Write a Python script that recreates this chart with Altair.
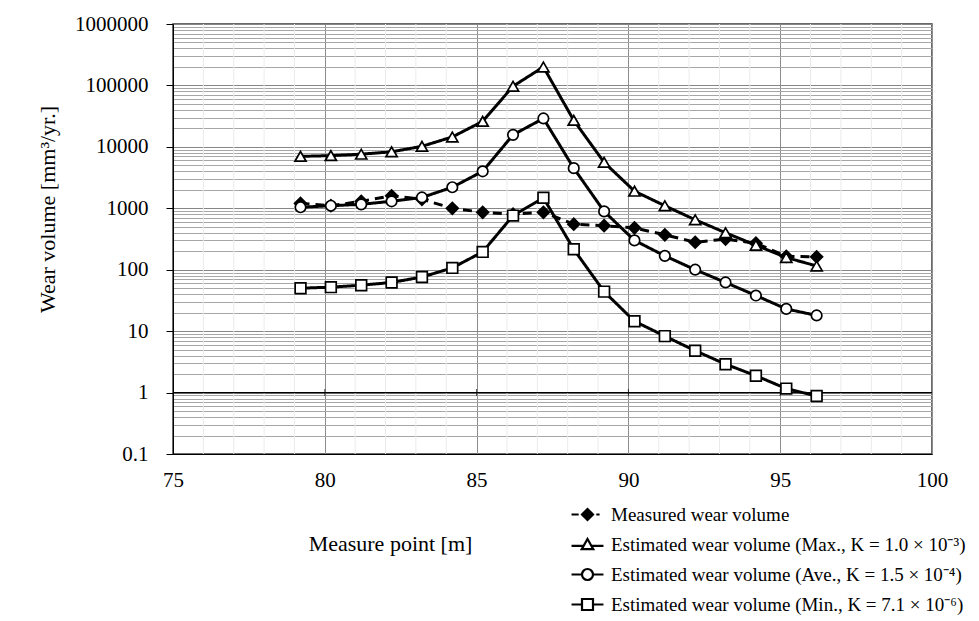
import altair as alt
import pandas as pd

# ---------------- data ----------------
positions = [79.2, 80.2, 81.2, 82.2, 83.2, 84.2, 85.2, 86.2, 87.2,
             88.2, 89.2, 90.2, 91.2, 92.2, 93.2, 94.2, 95.2, 96.2]
measured = [1200, 1100, 1300, 1600, 1400, 1000, 860, 800, 860,
            550, 520, 480, 370, 280, 315, 270, 165, 162]
est_max = [7000, 7200, 7600, 8300, 10200, 14500, 26000, 97000, 200000,
           27000, 5600, 1900, 1100, 650, 400, 250, 158, 115]
est_ave = [1040, 1100, 1160, 1300, 1500, 2200, 4000, 15700, 29000,
           4500, 890, 300, 168, 100, 62, 38, 23, 18]
est_min = [50, 52, 56, 62, 76, 107, 195, 760, 1480,
           215, 44, 14.5, 8.3, 4.8, 2.9, 1.88, 1.16, 0.88]

series_names = [
    "Measured wear volume",
    "Estimated wear volume (Max., K = 1.0 × 10⁻³)",
    "Estimated wear volume (Ave., K = 1.5 × 10⁻⁴)",
    "Estimated wear volume (Min., K = 7.1 × 10⁻⁶)",
]
series_values = [measured, est_max, est_ave, est_min]

x_major = [75, 80, 85, 90, 95, 100]
x_minor = [v for v in range(76, 100) if v % 5 != 0]
y_decades = [0.1, 1, 10, 100, 1000, 10000, 100000, 1000000]
y_minor = [m * d for d in y_decades[:-1] for m in range(2, 10)]
x_axis_crossing = [1]
x_axis_marks = [80, 85, 90, 95]

rows = []
for name, vals in zip(series_names, series_values):
    for p, v in zip(positions, vals):
        rows.append({"series": name, "pos": p, "wear": v})
df = pd.DataFrame(rows)

FONT = "Liberation Serif"
decade_test = "abs(log(datum.value)/LN10 - round(log(datum.value)/LN10)) < 1e-6"

x_scale = alt.Scale(domain=[75, 100], nice=False, zero=False)
y_scale = alt.Scale(type="log", domain=[0.1, 1000000], nice=False)

x_enc = alt.X(
    "pos:Q", scale=x_scale,
    axis=alt.Axis(
        values=x_major, title="Measure point [m]",
        labelOverlap=False, labelFlush=False,
        ticks=False, labelPadding=15, labelFontSize=21, labelFont=FONT,
        labelColor="black", domainColor="black", domainWidth=1,
        gridColor="#8c8c8c", gridWidth=1,
        titleFont=FONT, titleFontSize=22, titleFontWeight="normal", titleColor="black",
        titleX=217, titleY=89, titleBaseline="middle", titleAlign="center",
    ),
)
y_enc = alt.Y(
    "wear:Q", scale=y_scale,
    axis=alt.Axis(
        values=y_decades + y_minor, title="Wear volume [mm³/yr.]",
        labelExpr=f"({decade_test}) ? format(datum.value, '~f') : ''",
        labelOverlap=False, labelFlush=False,
        tickColor={"condition": {"test": decade_test, "value": "black"},
                   "value": "transparent"},
        tickSize=7, labelPadding=18, labelFontSize=21, labelFont=FONT,
        labelColor="black", domainColor="black", domainWidth=1,
        gridColor={"condition": {"test": decade_test, "value": "#868686"},
                   "value": "#a6a6a6"},
        gridWidth=1,
        titleFont=FONT, titleFontSize=22, titleFontWeight="normal", titleColor="black",
        titleX=-126, titleY=185, titleBaseline="middle", titleAlign="center",
        titleAngle=-90,
    ),
)

base = alt.Chart(df)

layers = []

# minor vertical gridlines
minor_df = pd.DataFrame({"pos": x_minor})
layers.append(
    alt.Chart(minor_df).mark_rule(color="#ebebeb", strokeWidth=1).encode(x=alt.X("pos:Q", scale=x_scale))
)

# x-axis line crossing at y = 1 (Excel style)
cross_df = pd.DataFrame({"wear": x_axis_crossing})
layers.append(
    alt.Chart(cross_df).mark_rule(color="black", strokeWidth=1.2).encode(y=alt.Y("wear:Q", scale=y_scale))
)
marks_df = pd.DataFrame({"pos": x_axis_marks, "wear": [x_axis_crossing[0]] * len(x_axis_marks)})
layers.append(
    alt.Chart(marks_df).mark_tick(orient="vertical", color="black", size=7, thickness=1).encode(
        x=alt.X("pos:Q", scale=x_scale), y=alt.Y("wear:Q", scale=y_scale)
    )
)

styles = [
    # name, dash, shape, fill, size
    (series_names[0], [9, 6], "diamond", "black", 140),
    (series_names[1], [1, 0], "triangle-up", "white", 125),
    (series_names[2], [1, 0], "circle", "white", 110),
    (series_names[3], [1, 0], "square", "white", 115),
]

first = True
for name, dash, shape, fill, size in styles:
    sub = base.transform_filter(alt.datum.series == name)
    line = sub.mark_line(color="black", strokeWidth=3, strokeDash=dash)
    pts = sub.mark_point(shape=shape, filled=True, fill=fill, stroke="black",
                         strokeWidth=1.7, size=size, opacity=1)
    if first:
        line = line.encode(x=x_enc, y=y_enc)
        first = False
    else:
        line = line.encode(x=alt.X("pos:Q", scale=x_scale), y=alt.Y("wear:Q", scale=y_scale))
    pts = pts.encode(x=alt.X("pos:Q", scale=x_scale), y=alt.Y("wear:Q", scale=y_scale))
    layers.append(line)
    layers.append(pts)

# legend-only layer (no visible data), custom symbols with line stubs
legend_paths = [
    "M-2.9,0H-1.6M-1,0L0,-1L1,0L0,1Z M1.6,0H2.2",
    "M-2.9,0.25H-0.75M0.75,0.25H2.9M0,-1L1.05,0.85L-1.05,0.85Z",
    "M-2.9,0H-1M1,0H2.9M-1,0A1,1,0,1,1,1,0A1,1,0,1,1,-1,0Z",
    "M-2.9,0H-1M1,0H2.9M-1,-1H1V1H-1Z",
]
legend_fills = ["black", "white", "white", "white"]
legend_strokes = ["black", "black", "black", "black"]
leg = alt.Legend(title=None, symbolOpacity=1, symbolStrokeWidth=2.2)
legend_layer = base.transform_filter("false").mark_point(filled=True, opacity=1, strokeWidth=2.2).encode(
    x=alt.X("pos:Q", scale=x_scale),
    y=alt.Y("wear:Q", scale=y_scale),
    shape=alt.Shape("series:N", scale=alt.Scale(domain=series_names, range=legend_paths), legend=leg),
    fill=alt.Fill("series:N", scale=alt.Scale(domain=series_names, range=legend_fills), legend=leg),
    stroke=alt.Stroke("series:N", scale=alt.Scale(domain=series_names, range=legend_strokes), legend=leg),
)
layers.append(legend_layer)

chart = alt.layer(*layers).properties(
    width=759, height=430,
    autosize=alt.AutoSizeParams(type="none"),
    padding={"left": 173, "top": 24, "right": 47, "bottom": 167},
).configure_view(
    stroke="#3a3a3a", strokeWidth=1.5
).configure_legend(
    orient="none", legendX=405, legendY=481, padding=0,
    symbolSize=121, symbolStrokeWidth=2.2,
    labelFont=FONT, labelFontSize=19, labelColor="black", labelOffset=14,
    rowPadding=9, labelLimit=600,
)

chart.save("out.html", embed_options={"renderer": "svg", "actions": False})
